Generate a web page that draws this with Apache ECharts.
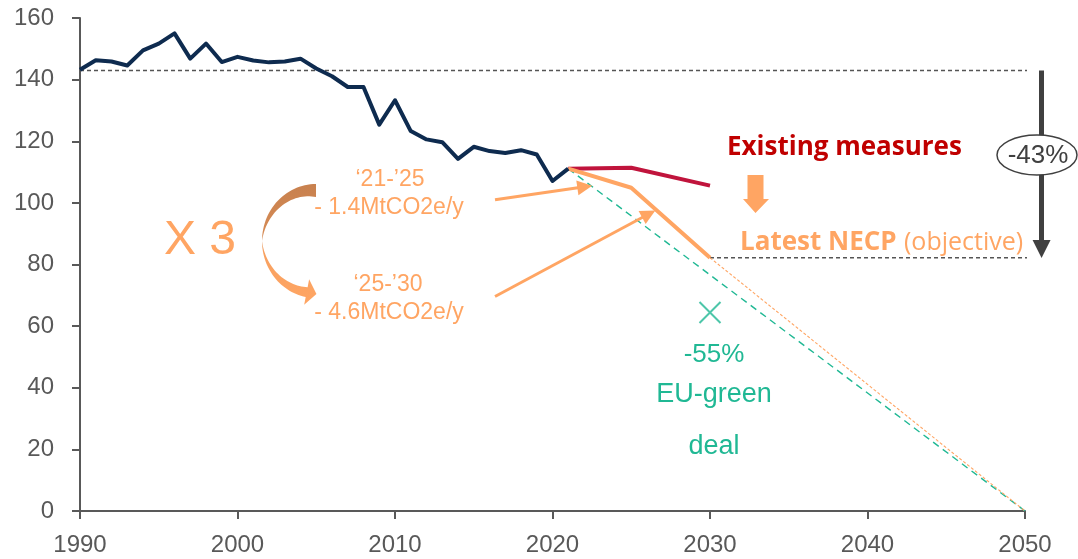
<!DOCTYPE html>
<html>
<head>
<meta charset="utf-8">
<script src="https://cdn.jsdelivr.net/npm/echarts@6/dist/echarts.min.js"></script>
<style>
  html, body { margin: 0; padding: 0; background: #fff; }
  #chart { width: 1078px; height: 559px; }
</style>
</head>
<body>
<div id="chart"></div>
<script>
// historical emissions (MtCO2e)
const histYears = [1990, 1991, 1992, 1993, 1994, 1995, 1996, 1997, 1998, 1999,
  2000, 2001, 2002, 2003, 2004, 2005, 2006, 2007, 2008, 2009,
  2010, 2011, 2012, 2013, 2014, 2015, 2016, 2017, 2018, 2019, 2020, 2021];
const histValues = [143.2, 146.3, 145.9, 144.6, 149.5, 151.7, 155.0, 146.8, 151.7, 145.7,
  147.4, 146.2, 145.6, 145.9, 146.8, 143.6, 141.1, 137.6, 137.6, 125.4,
  133.3, 123.3, 120.6, 119.7, 114.3, 118.2, 116.8, 116.2, 117.1, 115.7, 107.1, 111.1];

// projections
const projYears = [2021, 2025, 2030];
const existingValues = [111.1, 111.4, 105.6];
const necpValues = [111.1, 104.9, 82.2];

// trajectories to zero
const greenDealPath = [[2021, 111.1], [2050, 0]];
const necpTail = [[2030, 82.2], [2050, 0]];
const greenDealTarget = [2030, 64.4];

// reference levels
const baseLevel = 143;
const necpLevel = 82.2;
const refEndX = 2051.4;
const arrowX = 2051.05;

const xTicks = [1990, 2000, 2010, 2020, 2030, 2040, 2050];
const yTicks = [0, 20, 40, 60, 80, 100, 120, 140, 160];

const NAVY = '#0e2b4f';
const RED = '#c0143c';
const ORANGE = '#ffa563';
const GREEN = '#20b894';
const GREY = '#595959';

const zip = (xs, ys) => xs.map((x, i) => [x, ys[i]]);

// curved "x3" arrow shape, built from an ellipse
function curvedArrow() {
  const cx = 316, cy = 241, rx = 54, ry = 57;
  const pt = (a, t) => [cx + (rx - t) * Math.cos(a), cy + (ry - t) * Math.sin(a)];
  const outer = [], inner = [];
  const n = 30;
  for (let i = 0; i <= n; i++) {
    const a = -Math.PI / 2 - (Math.PI / 2) * i / n;
    const t = 13 * (1 - i / n);
    outer.push(pt(a, 0)); inner.push(pt(a, t));
  }
  const aEnd = 101 * Math.PI / 180;
  for (let i = 1; i <= n; i++) {
    const a = Math.PI - (Math.PI - aEnd) * i / n;
    const t = 10 * i / n;
    outer.push(pt(a, 0)); inner.push(pt(a, t));
  }
  const O = pt(aEnd, 0), I = pt(aEnd, 10);
  const M = [(O[0] + I[0]) / 2, (O[1] + I[1]) / 2];
  let d = [rx * Math.sin(aEnd), -ry * Math.cos(aEnd)];
  let dl = Math.hypot(d[0], d[1]); d = [d[0] / dl, d[1] / dl];
  let nn = [O[0] - I[0], O[1] - I[1]];
  let nl = Math.hypot(nn[0], nn[1]); nn = [nn[0] / nl, nn[1] / nl];
  const head = [
    [M[0] + nn[0] * 13, M[1] + nn[1] * 13],
    [M[0] + d[0] * 10, M[1] + d[1] * 10],
    [M[0] - nn[0] * 13, M[1] - nn[1] * 13]
  ];
  return outer.concat(head, inner.reverse());
}

const txt = (x, y, text, font, fill, align) => ({
  type: 'text', x: x, y: y, z: 50,
  style: { text: text, font: font, fill: fill,
    textAlign: align || 'center', align: align || 'center',
    textVerticalAlign: 'middle', verticalAlign: 'middle' }
});

const chart = echarts.init(document.getElementById('chart'));
chart.setOption({
  animation: false,
  grid: { left: 80, right: 53, top: 18, bottom: 48 },
  xAxis: {
    type: 'value', min: 1990, max: 2050, interval: 10,
    axisLine: { lineStyle: { color: GREY, width: 2 } },
    axisTick: { length: 8, lineStyle: { color: GREY, width: 2 } },
    axisLabel: { color: GREY, fontSize: 24, fontFamily: 'Liberation Sans', margin: 22,
      formatter: v => xTicks.includes(v) ? String(v) : '' },
    splitLine: { show: false }
  },
  yAxis: {
    type: 'value', min: 0, max: 160, interval: 20,
    axisLine: { show: true, lineStyle: { color: GREY, width: 2 } },
    axisTick: { show: true, length: 8, lineStyle: { color: GREY, width: 2 } },
    axisLabel: { color: GREY, fontSize: 24, fontFamily: 'Liberation Sans', margin: 26,
      formatter: v => yTicks.includes(v) ? String(v) : '' },
    splitLine: { show: false }
  },
  series: [
    {
      name: 'base', type: 'line', clip: false, symbol: 'none', z: 1,
      data: [[1990, baseLevel], [refEndX, baseLevel]],
      lineStyle: { color: '#555', width: 1.5, type: [4, 3] }
    },
    {
      name: 'necpLevel', type: 'line', clip: false, symbol: 'none', z: 1,
      data: [[2030, necpLevel], [refEndX, necpLevel]],
      lineStyle: { color: '#555', width: 1.5, type: [4, 3] }
    },
    {
      name: 'greenDeal', type: 'line', symbol: 'none', z: 2,
      data: greenDealPath,
      lineStyle: { color: GREEN, width: 1.4, type: [7, 5] }
    },
    {
      name: 'necpTail', type: 'line', symbol: 'none', z: 2,
      data: necpTail,
      lineStyle: { color: ORANGE, width: 1.1, type: [3, 2] }
    },
    {
      name: 'existing', type: 'line', symbol: 'none', z: 3,
      data: zip(projYears, existingValues),
      lineStyle: { color: RED, width: 4, join: 'round' }
    },
    {
      name: 'necp', type: 'line', symbol: 'none', z: 3,
      data: zip(projYears, necpValues),
      lineStyle: { color: ORANGE, width: 4, join: 'round' }
    },
    {
      name: 'history', type: 'line', symbol: 'none', z: 4,
      data: zip(histYears, histValues),
      lineStyle: { color: NAVY, width: 4, join: 'round' }
    },
    {
      name: 'target', type: 'scatter', z: 5,
      symbol: 'path://M0 0L20 20M20 0L0 20', symbolSize: 21,
      data: [greenDealTarget],
      itemStyle: { color: 'rgba(0,0,0,0)', borderColor: GREEN, borderWidth: 2 }
    },
    {
      name: 'arrows', type: 'lines', coordinateSystem: 'cartesian2d', clip: false, z: 6,
      symbol: ['none', 'triangle'], symbolSize: 15,
      data: [
        { coords: [[2016.35, 101.0], [2022.05, 105.2]] },
        { coords: [[2016.35, 69.6], [2026.11, 96.4]] }
      ],
      lineStyle: { color: ORANGE, width: 3, opacity: 1, curveness: 0 }
    },
    {
      name: 'drop', type: 'lines', coordinateSystem: 'cartesian2d', clip: false, z: 6,
      symbol: ['none', 'triangle'], symbolSize: 18,
      data: [{ coords: [[arrowX, baseLevel], [arrowX, 85.0]] }],
      lineStyle: { color: '#404040', width: 5, opacity: 1, curveness: 0 }
    }
  ],
  graphic: [
    {
      type: 'polygon', z: 40,
      shape: { points: curvedArrow() },
      style: {
        fill: new echarts.graphic.LinearGradient(0, 0, 0, 1, [
          { offset: 0, color: '#c8814f' },
          { offset: 0.45, color: '#d68b55' },
          { offset: 0.55, color: '#f7a161' },
          { offset: 1, color: '#ffa563' }
        ])
      }
    },
    {
      type: 'polygon', z: 40,
      shape: { points: [[747.5, 175], [763.5, 175], [763.5, 199], [769, 199], [755.5, 213], [743, 199], [747.5, 199]] },
      style: { fill: ORANGE }
    },
    {
      type: 'ellipse', z: 45,
      shape: { cx: 1037, cy: 155, rx: 40, ry: 20 },
      style: { fill: '#fff', stroke: '#404040', lineWidth: 1.5 }
    },
    txt(1038, 156, '-43%', '26px "Liberation Sans"', '#404040'),
    txt(200, 241, 'X 3', '48px "Liberation Sans"', ORANGE),
    txt(390, 180, '\u201821-\u201925', '23px "Liberation Sans"', ORANGE),
    txt(389, 208, '- 1.4MtCO2e/y', '23px "Liberation Sans"', ORANGE),
    txt(388, 285, '\u201825-\u201930', '23px "Liberation Sans"', ORANGE),
    txt(389, 313, '- 4.6MtCO2e/y', '23px "Liberation Sans"', ORANGE),
    txt(727, 148, 'Existing measures', 'bold 26px "Open Sans"', '#c00000', 'left'),
    txt(740, 243, 'Latest NECP', 'bold 26px "Open Sans"', ORANGE, 'left'),
    txt(904, 243, '(objective)', '25px "Open Sans"', ORANGE, 'left'),
    txt(714, 355, '-55%', '26px "Liberation Sans"', GREEN),
    txt(714, 395, 'EU-green', '27px "Liberation Sans"', GREEN),
    txt(714, 447, 'deal', '27px "Liberation Sans"', GREEN)
  ]
});
</script>
</body>
</html>
